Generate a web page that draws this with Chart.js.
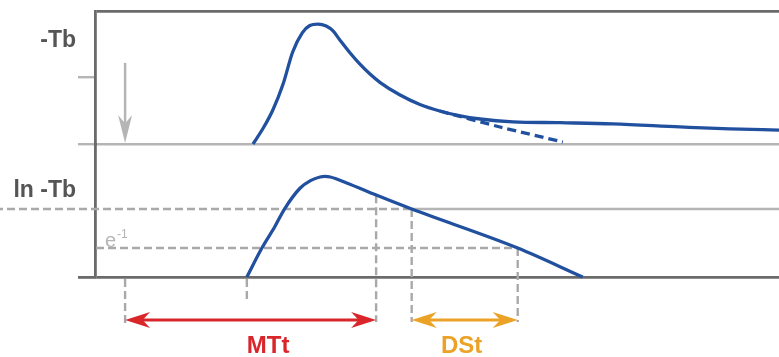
<!DOCTYPE html>
<html>
<head>
<meta charset="utf-8">
<script src="https://cdn.jsdelivr.net/npm/chart.js@4.4.1/dist/chart.umd.min.js"></script>
<style>
  html, body { margin: 0; padding: 0; background: #fff; }
  #wrap { width: 779px; height: 357px; }
</style>
</head>
<body>
<div id="wrap"><canvas id="curve" width="779" height="357"></canvas></div>
<script>
// ---- data (time in arbitrary units 0..100, signal normalised 0..1 per panel) ----
const topT = [23.1, 24.6, 26.0, 27.5, 28.9, 30.3, 31.4, 32.6, 33.8, 34.8, 35.8, 37.3, 38.7, 40.2, 41.7, 44.6, 47.5, 50.4, 53.4, 56.3, 61.1, 68.0, 75.7, 85.5, 92.8, 100];
const topY = [0, 0.12, 0.256, 0.451, 0.692, 0.835, 0.891, 0.902, 0.887, 0.85, 0.782, 0.684, 0.602, 0.526, 0.462, 0.368, 0.297, 0.248, 0.211, 0.188, 0.167, 0.16, 0.151, 0.128, 0.113, 0.105];

// dashed mono-exponential extrapolation of the wash-out
const fitT = [50.4, 59.2, 68.4];
const fitY = [0.248, 0.128, 0.015];

// ln(-Tb) curve
const lnT = [22.2, 24.4, 26.3, 27.7, 30.0, 31.5, 32.9, 33.6, 34.4, 36.8, 41.2, 46.3, 61.8, 71.3];
const lnY = [0, 0.218, 0.38, 0.511, 0.669, 0.725, 0.752, 0.756, 0.752, 0.707, 0.614, 0.511, 0.218, 0];

// tick values per panel
const topTicks = [0, 0.5, 1];
const lnTicks = [0, 1];

// reference levels / times
const levelHalf = 0.511;     // level where DSt starts
const levelE = 0.218;        // e^-1 level
const injectT = 4.4;         // injection (arrow)
const onsetT = 22.2;         // bolus arrival
const mttEndT = 41.1;
const mttEndY = 0.615;
const dsStartT = 46.3;
const dsEndT = 61.8;
const arrowTopY = 0.61;

const axisLabels = ['-Tb', 'ln -Tb'];
const spanLabels = ['MTt', 'DSt'];
const spanLabelT = [25.3, 53.6];

const BLUE = '#21509f';
const DARK = '#6b6b6b';
const LIGHT = '#b5b5b5';
const DASH = '#a9a9a9';
const RED = '#d9262b';
const ORANGE = '#eca226';

const pts = (xs, ys) => xs.map((x, i) => ({ x: x, y: ys[i] }));

function arrowHead(ctx, x, y, dx, dy, len, half) {
  // notched arrow head, tip at (x, y), pointing along (dx, dy)
  const nx = -dy, ny = dx;
  ctx.beginPath();
  ctx.moveTo(x, y);
  ctx.lineTo(x - dx * len + nx * half, y - dy * len + ny * half);
  ctx.lineTo(x - dx * len * 0.7, y - dy * len * 0.7);
  ctx.lineTo(x - dx * len - nx * half, y - dy * len - ny * half);
  ctx.closePath();
  ctx.fill();
}

function dashedLine(ctx, x1, y1, x2, y2) {
  ctx.save();
  ctx.strokeStyle = DASH;
  ctx.lineWidth = 2.4;
  ctx.setLineDash([8, 4]);
  ctx.beginPath();
  ctx.moveTo(x1, y1);
  ctx.lineTo(x2, y2);
  ctx.stroke();
  ctx.restore();
}

const guides = {
  id: 'guides',
  beforeDatasetsDraw(chart) {
    const { ctx, chartArea: a, scales } = chart;
    const x = scales.x, yT = scales.yTop, yB = scales.yBot;
    const px = t => x.getPixelForValue(t);
    const below = a.bottom + 45;

    // half level: dashed to DSt start, solid afterwards
    const yh = yB.getPixelForValue(levelHalf);
    dashedLine(ctx, yB.left - 17, yh, px(dsStartT), yh);
    ctx.save();
    ctx.strokeStyle = LIGHT;
    ctx.lineWidth = 2.4;
    ctx.beginPath();
    ctx.moveTo(px(dsStartT), yh);
    ctx.lineTo(a.right, yh);
    ctx.stroke();
    ctx.restore();

    // e^-1 level
    const ye = yB.getPixelForValue(levelE);
    dashedLine(ctx, a.left + 1, ye, px(dsEndT), ye);

    // verticals
    dashedLine(ctx, px(injectT), yB.getPixelForValue(0) + 2, px(injectT), below + 2);
    dashedLine(ctx, px(onsetT), yB.getPixelForValue(0) + 2, px(onsetT), a.bottom + 26);
    dashedLine(ctx, px(mttEndT), yB.getPixelForValue(mttEndY), px(mttEndT), below);
    dashedLine(ctx, px(dsStartT), yh, px(dsStartT), below);
    dashedLine(ctx, px(dsEndT), ye, px(dsEndT), below);

    // injection arrow in the top panel
    const ax = px(injectT);
    const ay0 = yT.getPixelForValue(arrowTopY), ay1 = yT.getPixelForValue(0) - 1;
    ctx.save();
    ctx.strokeStyle = LIGHT;
    ctx.fillStyle = LIGHT;
    ctx.lineWidth = 2.5;
    ctx.beginPath();
    ctx.moveTo(ax, ay0);
    ctx.lineTo(ax, ay1 - 15);
    ctx.stroke();
    arrowHead(ctx, ax, ay1, 0, 1, 28, 7);
    ctx.restore();
  },
  afterDraw(chart) {
    const { ctx, chartArea: a, scales } = chart;
    const x = scales.x, yB = scales.yBot;
    const px = t => x.getPixelForValue(t);
    const ay = a.bottom + 43;

    // span arrows
    const span = (t1, t2, col) => {
      const x1 = px(t1), x2 = px(t2);
      ctx.save();
      ctx.strokeStyle = col;
      ctx.fillStyle = col;
      ctx.lineWidth = 3.2;
      ctx.beginPath();
      ctx.moveTo(x1 + 12, ay);
      ctx.lineTo(x2 - 12, ay);
      ctx.stroke();
      arrowHead(ctx, x1, ay, -1, 0, 25, 8);
      arrowHead(ctx, x2, ay, 1, 0, 25, 8);
      ctx.restore();
    };
    span(injectT, mttEndT, RED);
    span(dsStartT, dsEndT, ORANGE);

    ctx.save();
    ctx.textAlign = 'center';
    ctx.textBaseline = 'middle';
    ctx.font = 'bold 24px "Liberation Sans", Arial, sans-serif';
    ctx.fillStyle = RED;
    ctx.fillText(spanLabels[0], px(spanLabelT[0]), a.bottom + 69);
    ctx.fillStyle = ORANGE;
    ctx.fillText(spanLabels[1], px(spanLabelT[1]), a.bottom + 69);

    // panel labels
    ctx.textAlign = 'right';
    ctx.fillStyle = '#555';
    ctx.font = 'bold 23px "Liberation Sans", Arial, sans-serif';
    ctx.fillText(axisLabels[0], a.left - 19, a.top + 30);
    ctx.fillText(axisLabels[1], a.left - 19, yB.top + 47);

    // e^-1
    const ye = yB.getPixelForValue(levelE);
    ctx.textAlign = 'left';
    ctx.textBaseline = 'alphabetic';
    ctx.fillStyle = LIGHT;
    ctx.font = '20px "Liberation Sans", Arial, sans-serif';
    ctx.fillText('e', a.left + 10, ye - 1);
    ctx.font = '12px "Liberation Sans", Arial, sans-serif';
    ctx.fillText('-1', a.left + 22, ye - 10);
    ctx.restore();
  }
};

const setTicks = vals => scale => { scale.ticks = vals.map(v => ({ value: v })); };
const fixWidth = scale => { scale.width = 95; };

new Chart(document.getElementById('curve'), {
  type: 'line',
  data: {
    datasets: [
      {
        data: pts(topT, topY), yAxisID: 'yTop',
        borderColor: BLUE, borderWidth: 3.3, pointRadius: 0,
        cubicInterpolationMode: 'monotone', clip: false
      },
      {
        data: pts(fitT, fitY), yAxisID: 'yTop',
        borderColor: BLUE, borderWidth: 3.3, borderDash: [9, 5], pointRadius: 0,
        tension: 0.3, clip: false
      },
      {
        data: pts(lnT, lnY), yAxisID: 'yBot',
        borderColor: BLUE, borderWidth: 3.3, pointRadius: 0,
        cubicInterpolationMode: 'monotone', clip: false
      }
    ]
  },
  options: {
    responsive: false,
    animation: false,
    events: [],
    layout: { padding: { left: 0, right: 0, top: 11, bottom: 80 } },
    plugins: { legend: { display: false }, tooltip: { enabled: false } },
    scales: {
      x: { type: 'linear', min: 0, max: 100, display: false },
      yBot: {
        type: 'linear', position: 'left', stack: 'panels', stackWeight: 1,
        min: 0, max: 1,
        afterBuildTicks: setTicks(lnTicks),
        afterFit: fixWidth,
        ticks: { display: false },
        border: { color: DARK, width: 2.8 },
        grid: {
          tickLength: 17,
          lineWidth: 2.8,
          tickWidth: 2.8,
          color: c => c.tick && c.tick.value === 0 ? DARK : 'rgba(0,0,0,0)',
          tickColor: c => c.tick && c.tick.value === 0 ? DARK : 'rgba(0,0,0,0)'
        }
      },
      yTop: {
        type: 'linear', position: 'left', stack: 'panels', stackWeight: 1,
        min: 0, max: 1,
        afterBuildTicks: setTicks(topTicks),
        afterFit: fixWidth,
        ticks: { display: false },
        border: { color: DARK, width: 2.8 },
        grid: {
          tickLength: 17,
          lineWidth: c => c.tick && c.tick.value === 1 ? 2.8 : 2.4,
          tickWidth: 2.4,
          color: c => {
            if (!c.tick) return 'rgba(0,0,0,0)';
            if (c.tick.value === 0) return LIGHT;
            if (c.tick.value === 1) return DARK;
            return 'rgba(0,0,0,0)';
          },
          tickColor: c => c.tick && c.tick.value !== 1 ? LIGHT : 'rgba(0,0,0,0)'
        }
      }
    }
  },
  plugins: [guides]
});
</script>
</body>
</html>
